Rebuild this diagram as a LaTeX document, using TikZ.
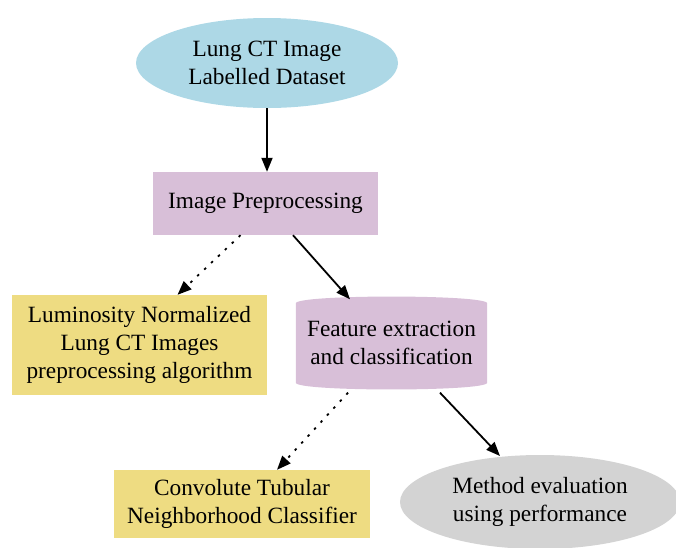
\documentclass[tikz,border=0pt]{standalone}
\usepackage{fontspec}
\setmainfont{Liberation Serif}
\usetikzlibrary{arrows.meta,shapes.geometric}
\definecolor{cblue}{HTML}{ADD8E6}
\definecolor{cthistle}{HTML}{D8BFD8}
\definecolor{cgold}{HTML}{EEDC82}
\definecolor{cgray}{HTML}{D3D3D3}
\tikzset{
  lbl/.style={font=\fontsize{23.3}{28}\selectfont, align=center, inner sep=0pt},
  conn/.style={line width=1.8pt, -{Triangle[length=14pt,width=11pt]}},
  dotconn/.style={conn, dash pattern=on 2.5pt off 7pt},
}
\begin{document}
\begin{tikzpicture}[x=1pt,y=-1pt]
\useasboundingbox (0,0) rectangle (676,547);
\begin{scope}
\clip (0,0) rectangle (676,547);
\node[lbl, ellipse, fill=cblue, minimum width=262, minimum height=90] (data) at (267,63) {Lung CT Image\\Labelled Dataset};
\node[lbl, rectangle, fill=cthistle, minimum width=225, minimum height=63] (pre) at (265.5,203.5) {Image Preprocessing};
\node[lbl, rectangle, fill=cgold, minimum width=255, minimum height=100] (lum) at (139.5,345) {Luminosity Normalized\\Lung CT Images\\preprocessing algorithm};
\node[lbl, rectangle, minimum width=191, minimum height=91] (feat) at (391.5,343) {};
\fill[cthistle] (feat.north west) ++(0,6) .. controls ++(0,-9) and ++(0,-9) .. ([yshift=-6pt]feat.north east)
  -- ([yshift=6pt]feat.south east) .. controls ++(0,9) and ++(0,9) .. ([yshift=6pt]feat.south west) -- cycle;
\node[lbl] (feattext) at (feat.center) {Feature extraction\\and classification};
\node[lbl, rectangle, fill=cgold, minimum width=256, minimum height=68] (conv) at (242,504) {Convolute Tubular\\Neighborhood Classifier};
\node[lbl, ellipse, fill=cgray, minimum width=280, minimum height=94] (meth) at (540,502) {Method evaluation\\using performance};
\end{scope}
\draw[conn] (data.south) -- (data.south |- pre.north);
\draw[dotconn] ([xshift=-25pt]pre.south) -- ([xshift=38pt]lum.north);
\draw[conn] ([xshift=27.5pt]pre.south) -- ([xshift=-41.5pt,yshift=-2pt]feat.north);
\draw[dotconn] ([xshift=-43.5pt,yshift=-4pt]feat.south) -- ([xshift=35pt]conv.north);
\draw[conn] ([xshift=48.5pt,yshift=-4pt]feat.south) -- ([shift={(-40,-46)}]meth.center);
\end{tikzpicture}
\end{document}
